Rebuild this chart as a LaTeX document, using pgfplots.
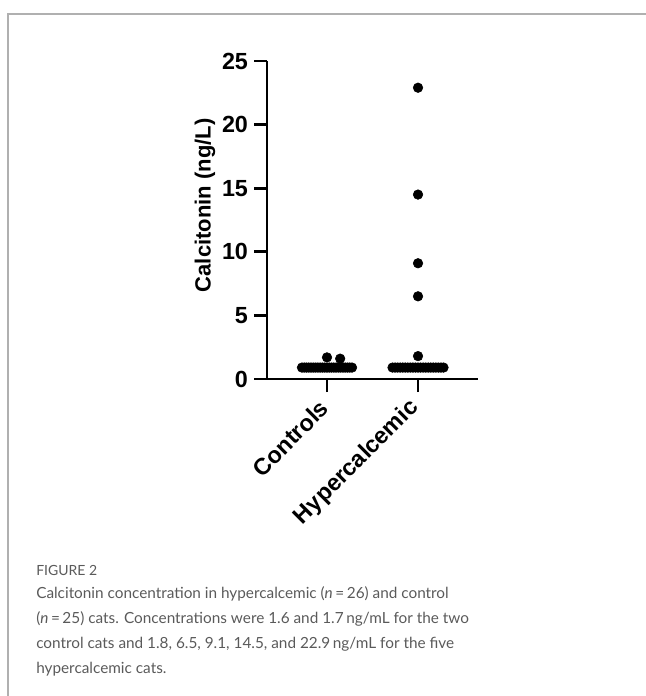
\documentclass[border=0pt]{standalone}
\usepackage{pgfplots}
\pgfplotsset{compat=1.18}
\usepackage{pgfplotstable}
\usepackage{fontspec}
\setmainfont{Liberation Sans}
\newfontfamily\capfont{Lato}
\definecolor{capgray}{HTML}{5A5A5A}
\definecolor{framegray}{HTML}{B0B0B0}

\pgfplotstableread{
x y
0.725 0.9
0.750 0.9
0.775 0.9
0.800 0.9
0.825 0.9
0.850 0.9
0.875 0.9
0.900 0.9
0.925 0.9
0.950 0.9
0.975 0.9
1.000 0.9
1.025 0.9
1.050 0.9
1.075 0.9
1.100 0.9
1.125 0.9
1.150 0.9
1.175 0.9
1.200 0.9
1.225 0.9
1.250 0.9
1.275 0.9
1.000 1.7
1.145 1.6
}\controls

\pgfplotstableread{
x y
1.720 0.9
1.748 0.9
1.776 0.9
1.804 0.9
1.832 0.9
1.860 0.9
1.888 0.9
1.916 0.9
1.944 0.9
1.972 0.9
2.000 0.9
2.028 0.9
2.056 0.9
2.084 0.9
2.112 0.9
2.140 0.9
2.168 0.9
2.196 0.9
2.224 0.9
2.252 0.9
2.280 0.9
2.000 1.8
2.000 6.5
2.000 9.1
2.000 14.5
2.000 22.9
}\hyper

\begin{document}
\begin{tikzpicture}[x=0.75pt,y=-0.75pt]
\useasboundingbox (0,0) rectangle (646,696);
\draw[framegray, line width=0.8pt] (8,696) -- (8,14) -- (646,14);

\begin{axis}[
  at={(200.25pt,-284.25pt)}, anchor=south west,
  scale only axis, width=158.25pt, height=238.5pt,
  xmin=0.341, xmax=2.659, ymin=0, ymax=25,
  axis lines=left, axis line style={-, line width=2pt},
  every tick/.style={black, line width=2pt},
  tick align=outside, major tick length=9.75pt,
  xtick={1,2}, xticklabels={Controls,Hypercalcemic},
  ytick={0,5,10,15,20,25},
  /pgf/number format/assume math mode=true,
  tick label style={font=\fontsize{17.5}{17.5}\selectfont\bfseries},
  yticklabel style={xshift=-1pt},
  xticklabel style={rotate=45, anchor=east, xshift=-4.5pt, yshift=-5pt},
  ylabel={Calcitonin (ng/L)},
  ylabel style={font=\fontsize{16.5}{16.5}\selectfont\bfseries, at={(axis description cs:-0.294,0.546)}, anchor=center, rotate=0},
  clip=false,
]
\addplot[only marks, mark=*, mark size=3.6pt, black] table[x=x,y=y] {\controls};
\addplot[only marks, mark=*, mark size=3.6pt, black] table[x=x,y=y] {\hyper};
\end{axis}

\node[anchor=base west, inner sep=0, text=capgray, font=\capfont\fontsize{10.5}{10.5}\selectfont] at (36,575) {FIGURE 2};
\begin{scope}[every node/.style={anchor=base west, inner sep=0, text=capgray, font=\capfont\fontsize{11.5}{11.5}\selectfont}]
\node at (36,598) {Calcitonin concentration in hypercalcemic (\textit{n}\,=\,26) and control};
\node at (36,623) {(\textit{n}\,=\,25) cats. Concentrations were 1.6 and 1.7\,ng/mL for the two};
\node at (36,648) {control cats and 1.8, 6.5, 9.1, 14.5, and 22.9\,ng/mL for the five};
\node at (36,673) {hypercalcemic cats.};
\end{scope}
\end{tikzpicture}
\end{document}
